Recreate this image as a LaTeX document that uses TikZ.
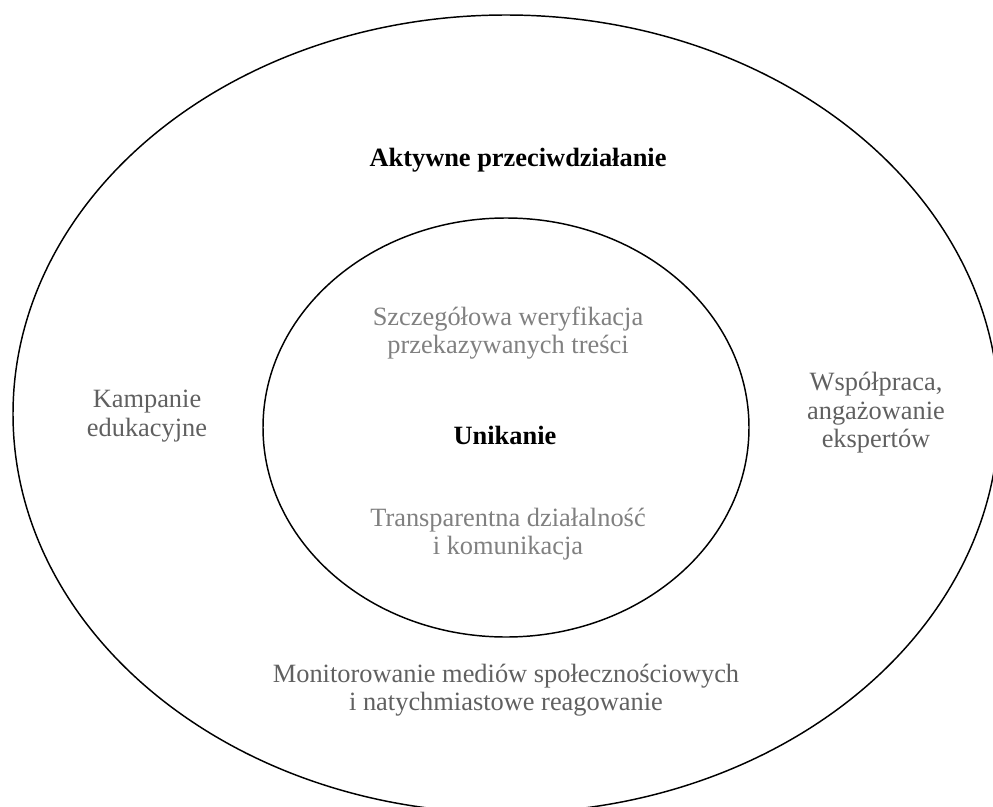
\documentclass[tikz,border=0pt]{standalone}
\usepackage{fontspec}
\setmainfont{Liberation Serif}
\definecolor{outergray}{HTML}{606060}
\definecolor{innergray}{HTML}{808080}
\begin{document}
\begin{tikzpicture}[x=0.75pt,y=-0.75pt,
  ring/.style={draw=black,line width=1.1pt},
  lbl/.style={align=center,font=\fontsize{19.8}{21.3}\selectfont,inner sep=0pt},
  outerlbl/.style={lbl,text=outergray},
  innerlbl/.style={lbl,text=innergray},
  titlelbl/.style={lbl,font=\fontsize{19.8}{21.3}\selectfont\bfseries,text=black}]
\useasboundingbox (0,0) rectangle (993,807);
\begin{scope}
\clip (0,0) rectangle (993,807);
\draw[ring] (506,414) ellipse [x radius=493, y radius=399];
\end{scope}
\draw[ring] (506,427.5) ellipse [x radius=243, y radius=209.5];
\node[titlelbl] (aktywne) at (518,160) {Aktywne przeciwdziałanie};
\node[innerlbl] (szcz) at (508,333) {Szczegółowa weryfikacja\\przekazywanych treści};
\node[titlelbl] (unik) at (505,435) {Unikanie};
\node[innerlbl] (transp) at (508,534) {Transparentna działalność\\i komunikacja};
\node[outerlbl] (kamp) at (147,416) {Kampanie\\edukacyjne};
\node[outerlbl] (wspol) at (876,413) {Współpraca,\\angażowanie\\ekspertów};
\node[outerlbl] (monit) at (506,690) {Monitorowanie mediów społecznościowych\\i natychmiastowe reagowanie};
\end{tikzpicture}
\end{document}
